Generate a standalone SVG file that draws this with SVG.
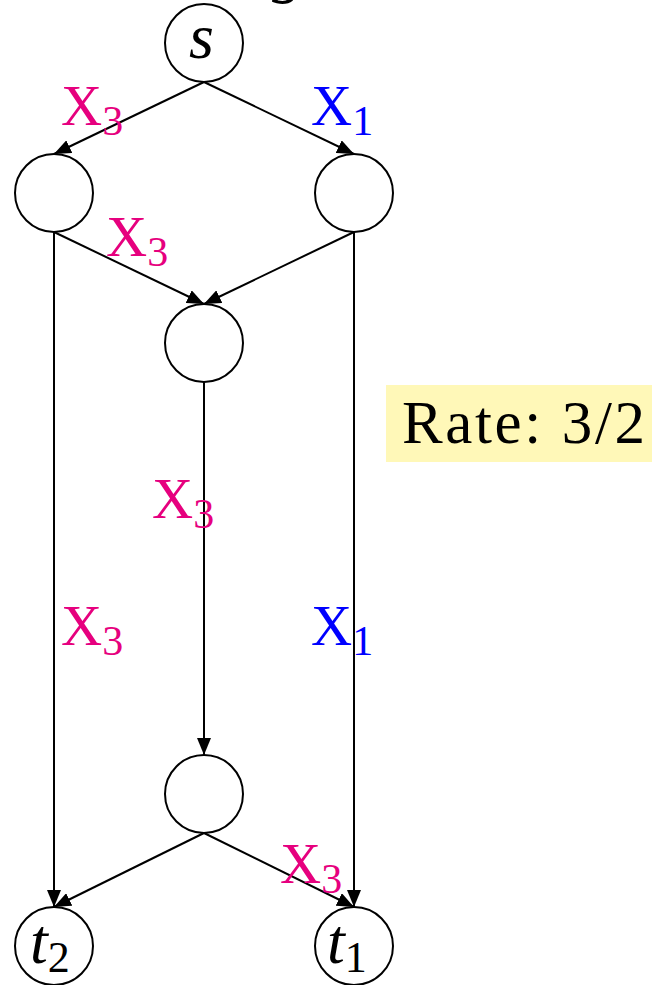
<svg xmlns="http://www.w3.org/2000/svg" width="652" height="985" viewBox="0 0 652 985">
<style>
.node{fill:#fff;stroke:#000;stroke-width:2}
.edge{fill:none;stroke:#000;stroke-width:2;marker-end:url(#arr)}
.lbl{font-family:"Liberation Serif","DejaVu Serif",serif;font-size:57px}
.sub{font-size:42px}
.m{fill:#e6007e}
.b{fill:#0000ff}
.nl{font-family:"Liberation Serif","DejaVu Serif",serif;font-style:italic;font-size:64px;fill:#000}
.ns{font-style:normal;font-size:44px}
</style>
<defs>
<marker id="arr" markerUnits="userSpaceOnUse" markerWidth="18" markerHeight="14" refX="17" refY="7" orient="auto">
<path d="M0,0 L17,7 L0,14 z" fill="#000"/>
</marker>
</defs>
<text x="272" y="-10" class="nl" font-size="60">g</text>
<g id="edges">
<line class="edge" x1="204" y1="82" x2="54" y2="154"/>
<line class="edge" x1="204" y1="82" x2="354" y2="154"/>
<line class="edge" x1="54" y1="232" x2="204" y2="304"/>
<line class="edge" x1="354" y1="232" x2="204" y2="304"/>
<line class="edge" x1="54" y1="232" x2="54" y2="907"/>
<line class="edge" x1="354" y1="232" x2="354" y2="907"/>
<line class="edge" x1="204" y1="382" x2="204" y2="755"/>
<line class="edge" x1="204" y1="833" x2="54" y2="907"/>
<line class="edge" x1="204" y1="833" x2="354" y2="907"/>
</g>
<g id="edge-labels">
<text class="lbl m" x="61" y="125">X<tspan class="sub" dy="10">3</tspan></text>
<text class="lbl b" x="311" y="125">X<tspan class="sub" dy="10">1</tspan></text>
<text class="lbl m" x="106" y="256">X<tspan class="sub" dy="10">3</tspan></text>
<text class="lbl m" x="152" y="518">X<tspan class="sub" dy="10">3</tspan></text>
<text class="lbl m" x="61" y="645">X<tspan class="sub" dy="10">3</tspan></text>
<text class="lbl b" x="311" y="645">X<tspan class="sub" dy="10">1</tspan></text>
<text class="lbl m" x="280" y="883">X<tspan class="sub" dy="10">3</tspan></text>
</g>
<g id="s"><circle class="node" cx="204" cy="43" r="39"/><text class="nl" x="189" y="58">s</text></g>
<g id="n1"><circle class="node" cx="54" cy="193" r="39"/></g>
<g id="n2"><circle class="node" cx="354" cy="193" r="39"/></g>
<g id="n3"><circle class="node" cx="204" cy="343" r="39"/></g>
<g id="n4"><circle class="node" cx="204" cy="794" r="39"/></g>
<g id="t2"><circle class="node" cx="54" cy="946" r="39"/><text class="nl" x="30" y="963">t<tspan class="ns" dy="9">2</tspan></text></g>
<g id="t1"><circle class="node" cx="354" cy="946" r="39"/><text class="nl" x="327" y="963">t<tspan class="ns" dy="9">1</tspan></text></g>
<g id="rate">
<rect x="386" y="385" width="266" height="77" fill="#fff8b8"/>
<text x="402" y="443" font-family="'Liberation Serif','Times New Roman',serif" font-size="61" fill="#000" textLength="243">Rate: 3/2</text>
</g>
</svg>
